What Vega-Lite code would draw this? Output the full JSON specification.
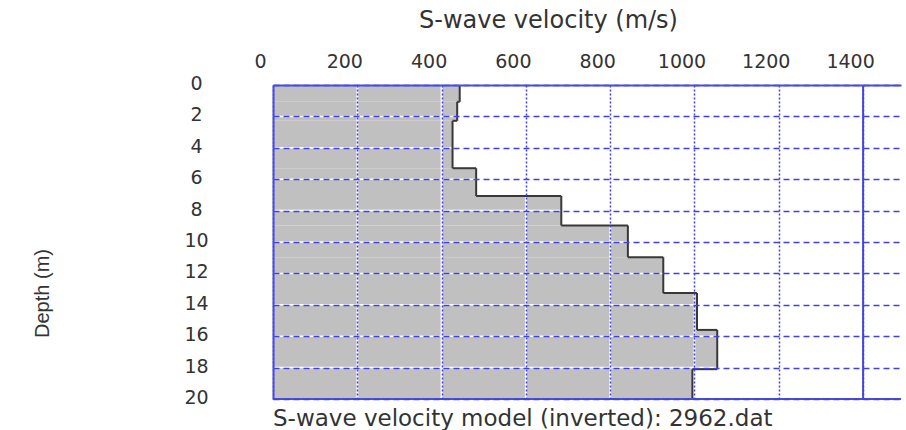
{
  "$schema": "https://vega.github.io/schema/vega-lite/v6.json",
  "autosize": "none",
  "width": 628,
  "height": 314,
  "padding": {"left": 273, "top": 85, "right": 5, "bottom": 31},
  "background": "white",
  "config": {"view": {"stroke": null}},
  "title": {
    "text": "S-wave velocity model (inverted): 2962.dat",
    "orient": "bottom",
    "anchor": "start",
    "frame": "group",
    "font": "DejaVu Sans",
    "fontSize": 23,
    "fontWeight": "normal",
    "color": "#333333",
    "baseline": "alphabetic",
    "offset": 18
  },
  "datasets": {
    "layers": [
      {"top": 0, "bottom": 1.07, "v": 443, "vnext": 437},
      {"top": 1.07, "bottom": 2.28, "v": 437, "vnext": 426},
      {"top": 2.28, "bottom": 5.3, "v": 426, "vnext": 482},
      {"top": 5.3, "bottom": 7.07, "v": 482, "vnext": 684},
      {"top": 7.07, "bottom": 8.95, "v": 684, "vnext": 842},
      {"top": 8.95, "bottom": 10.97, "v": 842, "vnext": 926},
      {"top": 10.97, "bottom": 13.25, "v": 926, "vnext": 1006},
      {"top": 13.25, "bottom": 15.6, "v": 1006, "vnext": 1054},
      {"top": 15.6, "bottom": 18.1, "v": 1054, "vnext": 995},
      {"top": 18.1, "bottom": 20, "v": 995, "vnext": null}
    ],
    "xgrid": [{"g": 200}, {"g": 400}, {"g": 600}, {"g": 800}, {"g": 1000}, {"g": 1200}],
    "ygrid": [{"g": 2}, {"g": 4}, {"g": 6}, {"g": 8}, {"g": 10}, {"g": 12}, {"g": 14}, {"g": 16}, {"g": 18}]
  },
  "layer": [
    {
      "data": {"name": "layers"},
      "mark": {"type": "rect", "fill": "#c0c0c0", "stroke": null},
      "encoding": {
        "x": {
          "field": "v", "type": "quantitative",
          "scale": {"domain": [0, 1490], "nice": false, "zero": false},
          "axis": {
            "orient": "top",
            "values": [0, 200, 400, 600, 800, 1000, 1200, 1400],
            "tickCount": 20,
            "format": "d",
            "grid": true, "gridDash": [2, 2], "gridColor": "#4040e8", "gridWidth": 1.5, "gridOpacity": 1,
            "domain": true, "domainColor": "#4b4bdc", "domainWidth": 2,
            "ticks": false,
            "labelFont": "DejaVu Sans", "labelFontSize": 19, "labelColor": "#333333",
            "labelOffset": -13, "labelPadding": 18, "labelBaseline": "alphabetic",
            "labelOverlap": false, "labelFlush": false,
            "title": "S-wave velocity (m/s)",
            "titleFont": "DejaVu Sans", "titleFontSize": 24, "titleFontWeight": "normal", "titleColor": "#333333",
            "titleX": 275, "titleY": -65, "titleAlign": "center", "titleBaseline": "middle", "titleAngle": 0,
            "zindex": 1
          }
        },
        "x2": {"datum": 0},
        "y": {
          "field": "top", "type": "quantitative",
          "scale": {"domain": [0, 20], "nice": false, "reverse": true, "zero": false},
          "axis": {
            "orient": "left",
            "values": [0, 2, 4, 6, 8, 10, 12, 14, 16, 18, 20],
            "tickCount": 20,
            "format": "d",
            "grid": true, "gridDash": [6, 4], "gridColor": "#4040e8", "gridWidth": 1.5, "gridOpacity": 1,
            "domain": true, "domainColor": "#4b4bdc", "domainWidth": 2,
            "ticks": false,
            "labelFont": "DejaVu Sans", "labelFontSize": 19, "labelColor": "#333333",
            "labelAlign": "center", "labelBaseline": "middle", "labelPadding": 77, "labelOffset": -1.5,
            "labelOverlap": false, "labelFlush": false,
            "title": "Depth (m)",
            "titleFont": "Liberation Sans", "titleFontSize": 20, "titleFontWeight": "normal", "titleColor": "#333333",
            "titleX": -231, "titleY": 208, "titleAngle": -90, "titleAlign": "center", "titleBaseline": "middle",
            "zindex": 1
          }
        },
        "y2": {"field": "bottom"}
      }
    },
    {
      "data": {"name": "xgrid"},
      "mark": {"type": "rule", "color": "white", "strokeWidth": 2},
      "encoding": {"x": {"field": "g", "type": "quantitative"}}
    },
    {
      "data": {"name": "ygrid"},
      "mark": {"type": "rule", "color": "white", "strokeWidth": 1.5},
      "encoding": {"y": {"field": "g", "type": "quantitative"}}
    },
    {
      "data": {"name": "layers"},
      "mark": {"type": "rule", "color": "#383838", "strokeWidth": 2},
      "encoding": {
        "x": {"field": "v", "type": "quantitative"},
        "y": {"field": "top", "type": "quantitative"},
        "y2": {"field": "bottom"}
      }
    },
    {
      "data": {"name": "layers"},
      "transform": [{"filter": "isValid(datum.vnext)"}],
      "mark": {"type": "rule", "color": "#383838", "strokeWidth": 2},
      "encoding": {
        "x": {"field": "v", "type": "quantitative"},
        "x2": {"field": "vnext"},
        "y": {"field": "bottom", "type": "quantitative"}
      }
    },
    {
      "data": {"values": [{}]},
      "mark": {"type": "rule", "color": "#4b4bdc", "strokeWidth": 2},
      "encoding": {"x": {"datum": 1400}}
    },
    {
      "data": {"values": [{}]},
      "mark": {"type": "rule", "color": "#4b4bdc", "strokeWidth": 2},
      "encoding": {"y": {"datum": 20}}
    }
  ]
}
